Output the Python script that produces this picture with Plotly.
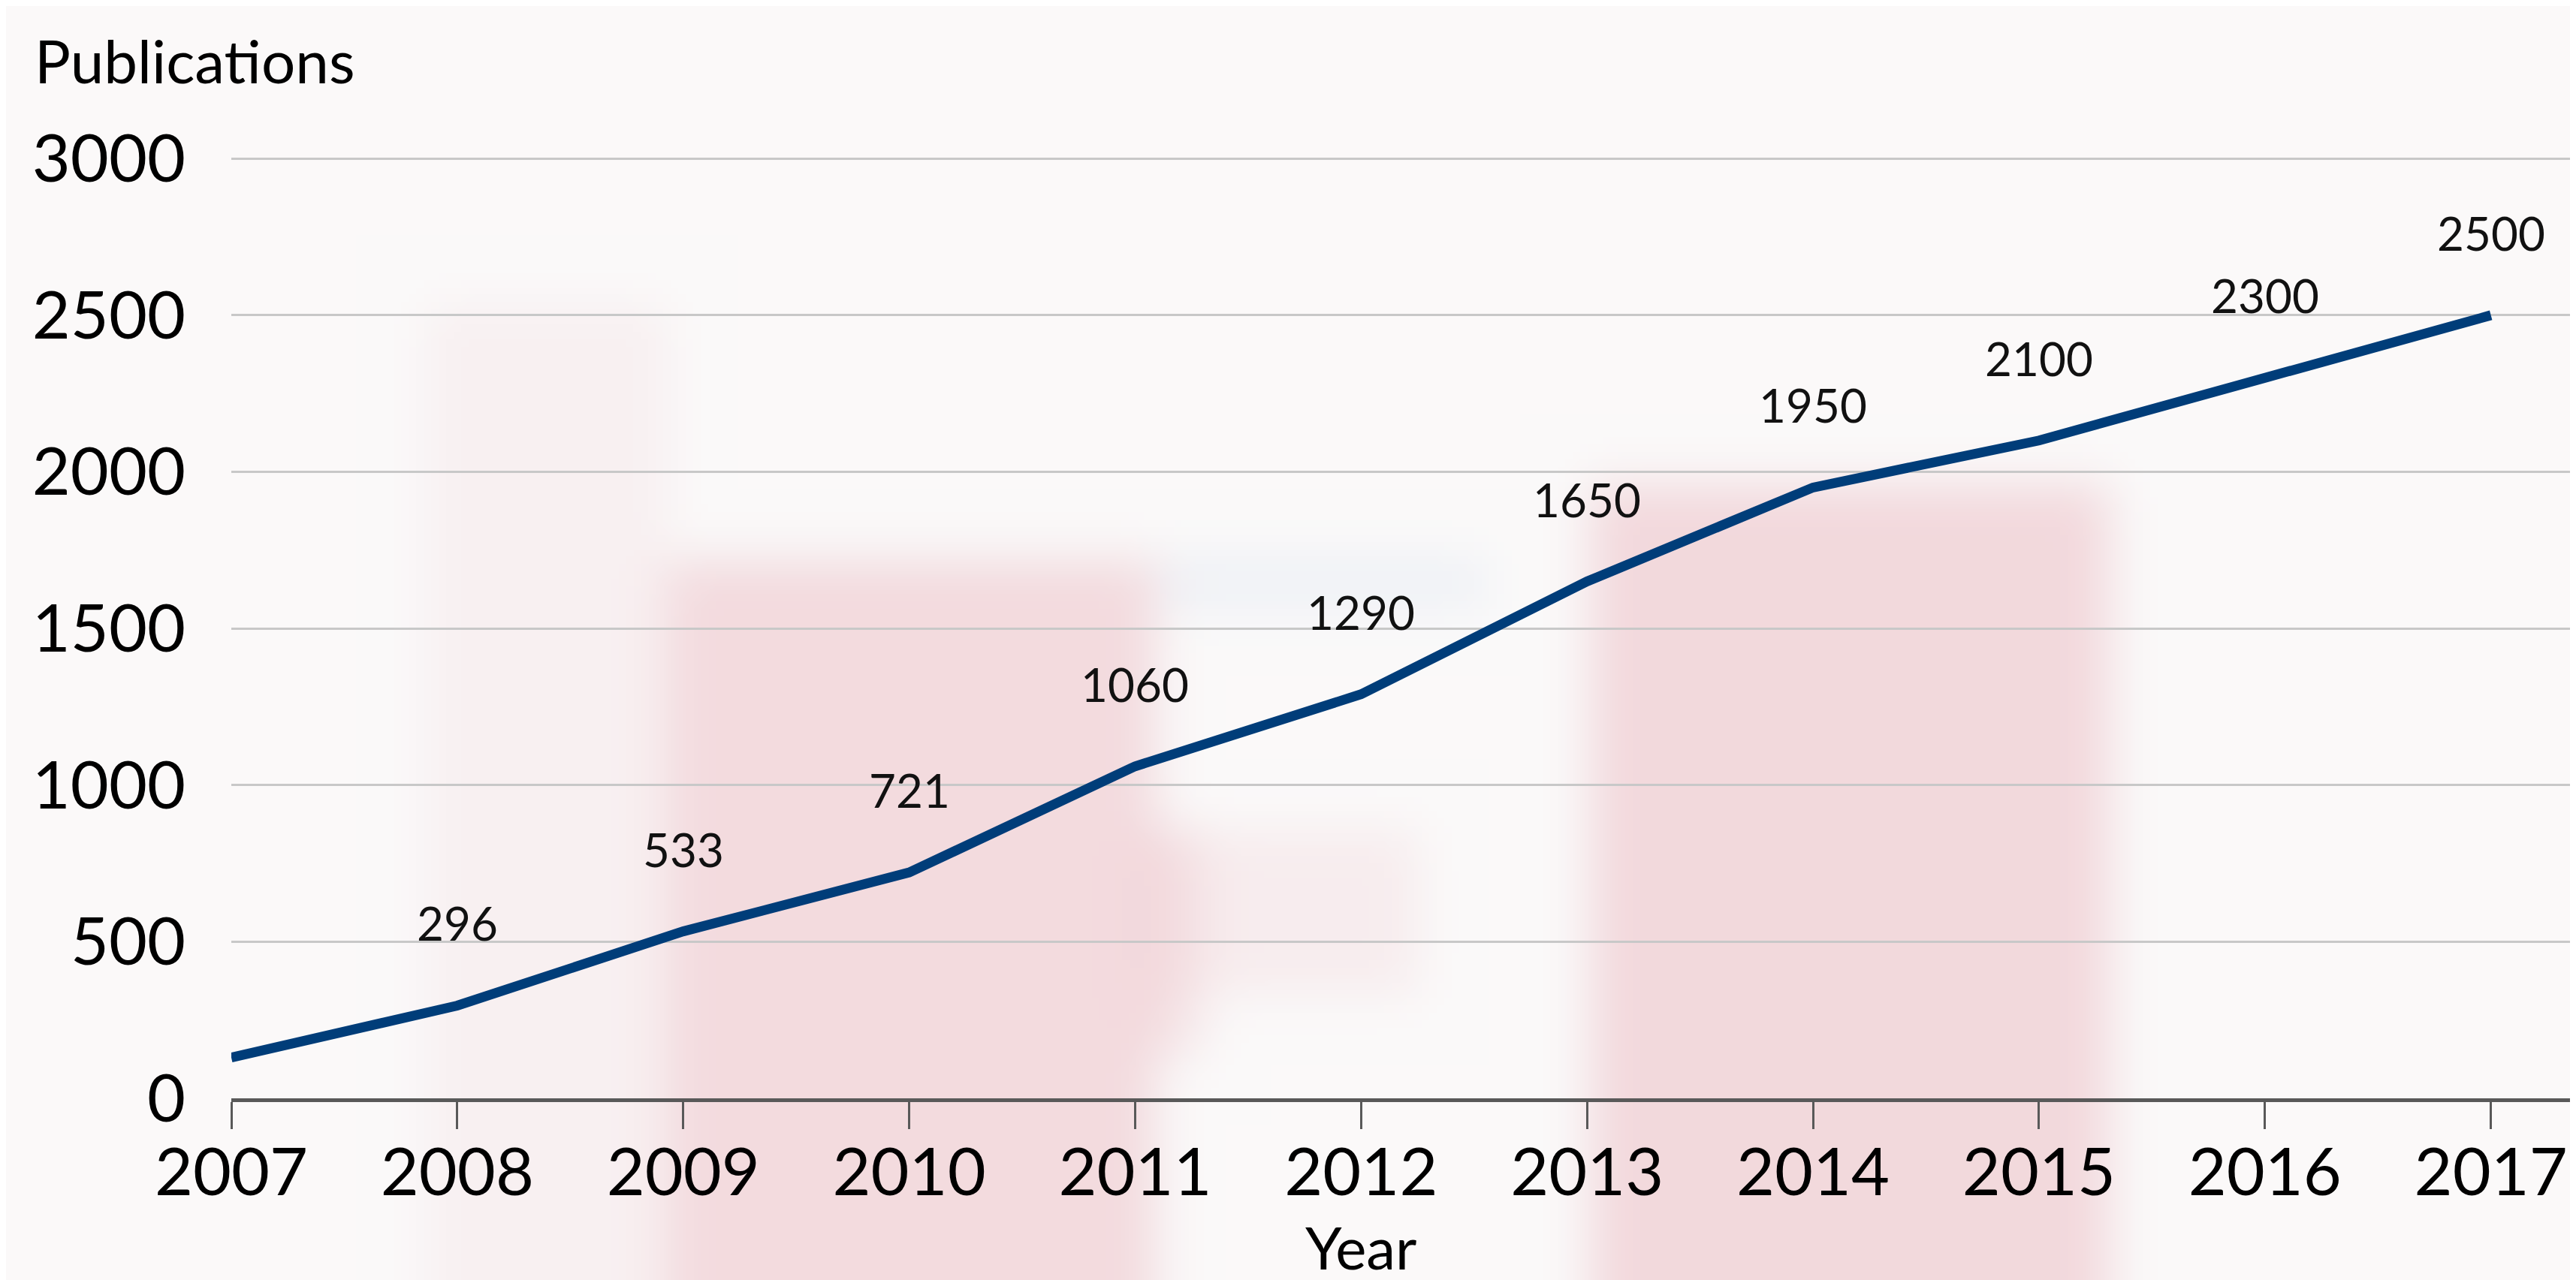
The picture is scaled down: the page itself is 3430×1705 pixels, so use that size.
import base64
import struct
import zlib

import numpy as np
import plotly.graph_objects as go

# ---------------- data ----------------
years = [2007, 2008, 2009, 2010, 2011, 2012, 2013, 2014, 2015, 2016, 2017]
publications = [130, 296, 533, 721, 1060, 1290, 1650, 1950, 2100, 2300, 2500]
point_labels = ["", "296", "533", "721", "1060", "1290", "1650", "1950", "2100", "2300", "2500"]
y_ticks = [0, 500, 1000, 1500, 2000, 2500, 3000]
y_title = "Publications"
x_title = "Year"

FONT = "Lato"
LINE_COLOR = "#003d79"


# ---------------- soft blurred background (decorative) ----------------
def make_background(w=343, h=171):
    img = np.empty((h, w, 3), dtype=float)
    img[:] = (251, 250, 250)
    pink = np.array((240, 206, 211), dtype=float)
    blue = np.array((226, 232, 242), dtype=float)

    def paint(x0, x1, y0, y1, color, alpha):
        img[y0:y1, x0:x1] = img[y0:y1, x0:x1] * (1 - alpha) + color * alpha

    paint(56, 88, 40, 171, pink, 0.22)
    paint(88, 153, 74, 171, pink, 0.7)
    paint(211, 280, 64, 171, pink, 0.75)
    paint(151, 188, 110, 132, pink, 0.3)
    paint(151, 159, 110, 140, pink, 0.5)
    paint(153, 197, 74, 80, blue, 0.55)

    # separable gaussian blur
    sigma = 3.2
    r = int(sigma * 3)
    k = np.exp(-0.5 * (np.arange(-r, r + 1) / sigma) ** 2)
    k /= k.sum()
    pad = np.pad(img, ((r, r), (r, r), (0, 0)), mode="edge")
    tmp = np.zeros_like(pad)
    for i, kv in enumerate(k):
        tmp[:, r:-r] += kv * pad[:, i:i + pad.shape[1] - 2 * r]
    out = np.zeros_like(pad)
    for i, kv in enumerate(k):
        out[r:-r, :] += kv * tmp[i:i + pad.shape[0] - 2 * r, :]
    res = np.clip(out[r:-r, r:-r], 0, 255).astype(np.uint8)

    raw = b"".join(b"\x00" + row.tobytes() for row in res)

    def chunk(tag, data):
        c = struct.pack(">I", len(data)) + tag + data
        return c + struct.pack(">I", zlib.crc32(tag + data) & 0xFFFFFFFF)

    png = b"\x89PNG\r\n\x1a\n"
    png += chunk(b"IHDR", struct.pack(">IIBBBBB", w, h, 8, 2, 0, 0, 0))
    png += chunk(b"IDAT", zlib.compress(raw, 9))
    png += chunk(b"IEND", b"")
    return "data:image/png;base64," + base64.b64encode(png).decode()


# ---------------- figure ----------------
W, H = 3430, 1705
Y_MAX = 3015
ML, MR, MT, MB = 300, 13, 197, 250
plot_w = W - ML - MR
plot_h = H - MT - MB

fig = go.Figure()
fig.add_trace(go.Scatter(
    x=years, y=publications, mode="lines",
    line=dict(color=LINE_COLOR, width=13),
    hoverinfo="x+y", showlegend=False,
))

annotations = []
for x, y, t in zip(years, publications, point_labels):
    if t:
        annotations.append(dict(
            x=x, y=y, xref="x", yref="y", text=t, showarrow=False,
            yshift=110, xanchor="center", yanchor="middle",
            font=dict(family=FONT, size=62, color="#111111"),
        ))
annotations.append(dict(
    x=0, y=1, xref="paper", yref="paper", text=y_title, showarrow=False,
    xanchor="left", yanchor="middle", xshift=-(ML - 36), yshift=MT - 72,
    font=dict(family=FONT, size=80, color="#000000"),
))
annotations.append(dict(
    x=2012, y=0, xref="x", yref="paper", text=x_title, showarrow=False,
    xanchor="center", yanchor="middle", yshift=-198,
    font=dict(family=FONT, size=78, color="#000000"),
))

fig.update_layout(
    width=W, height=H,
    margin=dict(l=ML, r=MR, t=MT, b=MB),
    paper_bgcolor="#fafafa",
    plot_bgcolor="rgba(0,0,0,0)",
    font=dict(family=FONT, color="#000000"),
    annotations=annotations,
    images=[dict(
        source=make_background(), xref="paper", yref="paper",
        x=-ML / plot_w, y=1 + MT / plot_h,
        sizex=W / plot_w, sizey=H / plot_h,
        xanchor="left", yanchor="top", sizing="stretch", layer="below",
    )],
)

fig.update_xaxes(
    range=[2007, 2017.36], tickmode="array", tickvals=years,
    ticktext=[str(y) for y in years],
    showgrid=False, zeroline=False,
    showline=True, linecolor="#595959", linewidth=5,
    ticks="outside", ticklen=36, tickwidth=3, tickcolor="#595959",
    tickfont=dict(family=FONT, size=88, color="#000000"),
    ticklabelstandoff=-18,
)
fig.update_yaxes(
    range=[0, Y_MAX], tickmode="array", tickvals=y_ticks,
    showgrid=True, gridcolor="#c8c8c8", gridwidth=3,
    zeroline=False, showline=False, ticks="",
    tickfont=dict(family=FONT, size=88, color="#000000"),
    ticklabelstandoff=60,
)

fig.write_html("out.html")
